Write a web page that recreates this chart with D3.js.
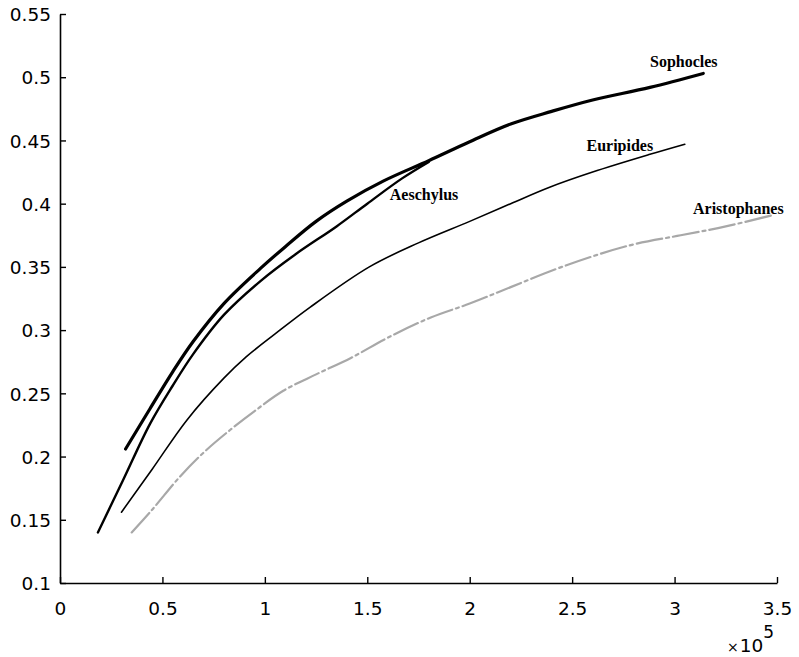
<!DOCTYPE html>
<html>
<head>
<meta charset="utf-8">
<script src="https://cdn.jsdelivr.net/npm/d3@7"></script>
<style>
  body { margin: 0; background: #fff; }
  .tick text { font-family: "DejaVu Sans", sans-serif; font-size: 18.5px; fill: #000; }
  .lbl { font-family: "Liberation Serif", "Times New Roman", serif; font-weight: bold; font-size: 16px; fill: #000; }
</style>
</head>
<body>
<div id="viz"></div>
<script>
// values, x in units of 10^5
let sophocles = [[0.32,0.206],[0.44,0.238],[0.55,0.267],[0.65,0.291],[0.8,0.321],[0.98,0.349],[1.1,0.366],
                 [1.25,0.386],[1.4,0.402],[1.58,0.418],[1.8,0.434],[2.0,0.449],[2.2,0.463],[2.4,0.473],
                 [2.6,0.482],[2.88,0.492],[3.14,0.503]]
let aeschylus = [[0.185,0.14],[0.307,0.181],[0.44,0.226],[0.55,0.256],[0.65,0.281],[0.8,0.312],[0.98,0.339],
                 [1.15,0.360],[1.35,0.382],[1.5,0.400],[1.67,0.420],[1.8,0.433]]
let euripides = [[0.30,0.156],[0.45,0.190],[0.62,0.229],[0.8,0.262],[0.91,0.279],[1.05,0.297],[1.22,0.318],
                 [1.51,0.350],[1.75,0.369],[2.0,0.386],[2.2,0.400],[2.39,0.413],[2.6,0.425],[2.88,0.439],[3.05,0.447]]
let aristophanes = [[0.35,0.14],[0.45,0.158],[0.585,0.184],[0.7,0.203],[0.83,0.221],[0.95,0.236],[1.09,0.252],
                    [1.25,0.265],[1.42,0.278],[1.6,0.294],[1.81,0.310],[2.0,0.321],[2.2,0.334],[2.45,0.350],
                    [2.78,0.367],[3.03,0.375],[3.25,0.382],[3.48,0.391]]

let names = ['Sophocles', 'Aeschylus', 'Euripides', 'Aristophanes']
let labelAt = [[2.88,0.508],[1.61,0.403],[2.57,0.442],[3.09,0.392]]
let xTicks = [0, 0.5, 1, 1.5, 2, 2.5, 3, 3.5]
let yTicks = [0.1, 0.15, 0.2, 0.25, 0.3, 0.35, 0.4, 0.45, 0.5, 0.55]

let width = 799, height = 657
let svg = d3.select('#viz').append('svg')
            .attr('width', width)
            .attr('height', height)

let x = d3.scaleLinear().domain([0, 3.5]).range([60, 777])
let y = d3.scaleLinear().domain([0.1, 0.55]).range([583, 14])

// axes: only left and bottom, ticks pointing inward
let xAxis = svg.append('g')
               .attr('transform', `translate(0,${y(0.1)})`)
               .call(d3.axisTop(x).tickValues(xTicks).tickSize(6).tickSizeOuter(0).tickFormat(d => d3.format('')(d)))
xAxis.select('.domain').attr('stroke-width', 1.6)
xAxis.selectAll('.tick line').attr('stroke-width', 1.4)
xAxis.selectAll('.tick text').attr('y', 32).attr('dy', 0)

let yAxis = svg.append('g')
               .attr('transform', `translate(${x(0)},0)`)
               .call(d3.axisRight(y).tickValues(yTicks).tickSize(6).tickSizeOuter(0).tickFormat(d => d3.format('')(d)))
yAxis.select('.domain').attr('stroke-width', 1.6)
yAxis.selectAll('.tick line').attr('stroke-width', 1.4)
yAxis.selectAll('.tick text').attr('x', -9).attr('dy', '0.36em').attr('text-anchor', 'end')

// x10^5 multiplier
let mult = svg.append('text')
              .attr('x', 727).attr('y', 652)
              .style('font-family', '"DejaVu Sans", sans-serif')
              .style('font-size', '18.5px')
mult.append('tspan').text('\u00d7').style('font-size', '14px')
mult.append('tspan').text('10').attr('dx', 1)
mult.append('tspan').text('5').attr('dy', -14).style('font-size', '17px')

let line = d3.line()
             .x(d => x(d[0]))
             .y(d => y(d[1]))
             .curve(d3.curveCatmullRom.alpha(0.5))

let series = [sophocles, aeschylus, euripides, aristophanes]
let strokes = ['#000', '#000', '#000', '#a8a8a8']
let widths = [3.2, 2.4, 1.6, 2.2]
let dashes = [null, null, null, '26,4,3,4']

svg.selectAll('path.series')
   .data(series)
   .enter()
   .append('path')
   .attr('class', 'series')
   .attr('d', line)
   .attr('fill', 'none')
   .attr('stroke', (d, i) => strokes[i])
   .attr('stroke-width', (d, i) => widths[i])
   .attr('stroke-linecap', 'round')
   .attr('stroke-dasharray', (d, i) => dashes[i])

svg.selectAll('text.lbl')
   .data(names)
   .enter()
   .append('text')
   .attr('class', 'lbl')
   .attr('x', (d, i) => x(labelAt[i][0]))
   .attr('y', (d, i) => y(labelAt[i][1]))
   .text(d => d)
</script>
</body>
</html>
